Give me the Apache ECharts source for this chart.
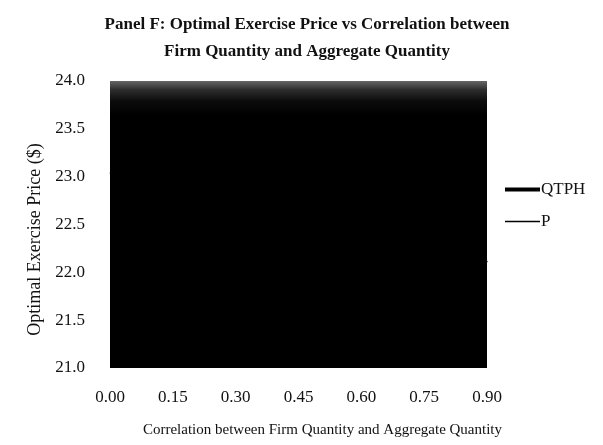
<!DOCTYPE html>
<html>
<head>
<meta charset="utf-8">
<script src="https://cdn.jsdelivr.net/npm/echarts@6/dist/echarts.min.js"></script>
<style>
  html, body { margin: 0; padding: 0; background: #ffffff; }
  #chart { width: 603px; height: 445px; }
</style>
</head>
<body>
<div id="chart"></div>
<script>
// Correlation between firm quantity and aggregate quantity (x axis)
const correlation = [0.00, 0.15, 0.30, 0.45, 0.60, 0.75, 0.90];
// Optimal exercise price ($) for each hedging strategy
const qtphPrice = [23.05, 22.95, 22.85, 22.70, 22.55, 22.35, 22.10];
const pPrice = [22.60, 22.55, 22.50, 22.45, 22.40, 22.30, 22.20];
const seriesNames = ['QTPH', 'P'];

const serif = '"Liberation Serif", "DejaVu Serif", serif';

function pairs(xs, ys) {
  return xs.map((x, i) => [x, ys[i]]);
}

const chart = echarts.init(document.getElementById('chart'), null, { renderer: 'canvas' });

chart.setOption({
  backgroundColor: '#ffffff',
  animation: false,
  title: {
    text: 'Panel F: Optimal Exercise Price vs Correlation between\nFirm Quantity and Aggregate Quantity',
    left: 302,
    textAlign: 'center',
    top: 6,
    textStyle: {
      fontFamily: serif,
      fontWeight: 'bold',
      fontSize: 17,
      lineHeight: 27,
      color: '#111'
    }
  },
  legend: {
    orient: 'vertical',
    left: 500,
    top: 176,
    itemWidth: 35,
    itemHeight: 14,
    itemGap: 15,
    symbolKeepAspect: true,
    textStyle: { fontFamily: serif, fontSize: 17, color: '#111', padding: [0, 0, 0, -4] },
    data: [
      { name: seriesNames[0], icon: 'path://M0,0H35V4H0Z' },
      { name: seriesNames[1], icon: 'path://M0,0H35V1.5H0Z' }
    ]
  },
  grid: {
    left: 110,
    right: 116,
    top: 81,
    bottom: 77,
    show: true,
    borderWidth: 0,
    backgroundColor: {
      type: 'linear', x: 0, y: 0, x2: 0, y2: 1,
      colorStops: [
        { offset: 0, color: '#666666' },
        { offset: 0.03, color: '#2e2e2e' },
        { offset: 0.07, color: '#0c0c0c' },
        { offset: 0.12, color: '#000000' },
        { offset: 1, color: '#000000' }
      ]
    }
  },
  xAxis: {
    type: 'value',
    min: 0,
    max: 0.9,
    interval: 0.15,
    name: 'Correlation between Firm Quantity and Aggregate Quantity',
    nameLocation: 'middle',
    nameGap: 55,
    nameTextStyle: { fontFamily: serif, fontSize: 15, color: '#111', padding: [0, 0, 0, 48] },
    axisLine: { show: false },
    axisTick: { show: false },
    splitLine: { show: false },
    axisLabel: {
      margin: 21,
      fontFamily: serif,
      fontSize: 17,
      color: '#111',
      formatter: v => v.toFixed(2)
    }
  },
  yAxis: {
    type: 'value',
    min: 21,
    max: 24,
    interval: 0.5,
    name: 'Optimal Exercise Price ($)',
    nameLocation: 'middle',
    nameGap: 50,
    nameTextStyle: { fontFamily: serif, fontSize: 18, color: '#111', padding: [0, 30, 0, 0] },
    axisLine: { show: false },
    axisTick: { show: false },
    splitLine: { show: false },
    axisLabel: {
      margin: 25,
      fontFamily: serif,
      fontSize: 17,
      color: '#111',
      padding: [0, 0, 6, 0],
      formatter: v => v.toFixed(1)
    }
  },
  series: [
    {
      name: seriesNames[0],
      type: 'line',
      data: pairs(correlation, qtphPrice),
      symbol: 'none',
      lineStyle: { color: '#000', width: 4 },
      itemStyle: { color: '#000' }
    },
    {
      name: seriesNames[1],
      type: 'line',
      data: pairs(correlation, pPrice),
      symbol: 'none',
      lineStyle: { color: '#000', width: 1.5 },
      itemStyle: { color: '#000' }
    }
  ]
});
</script>
</body>
</html>
